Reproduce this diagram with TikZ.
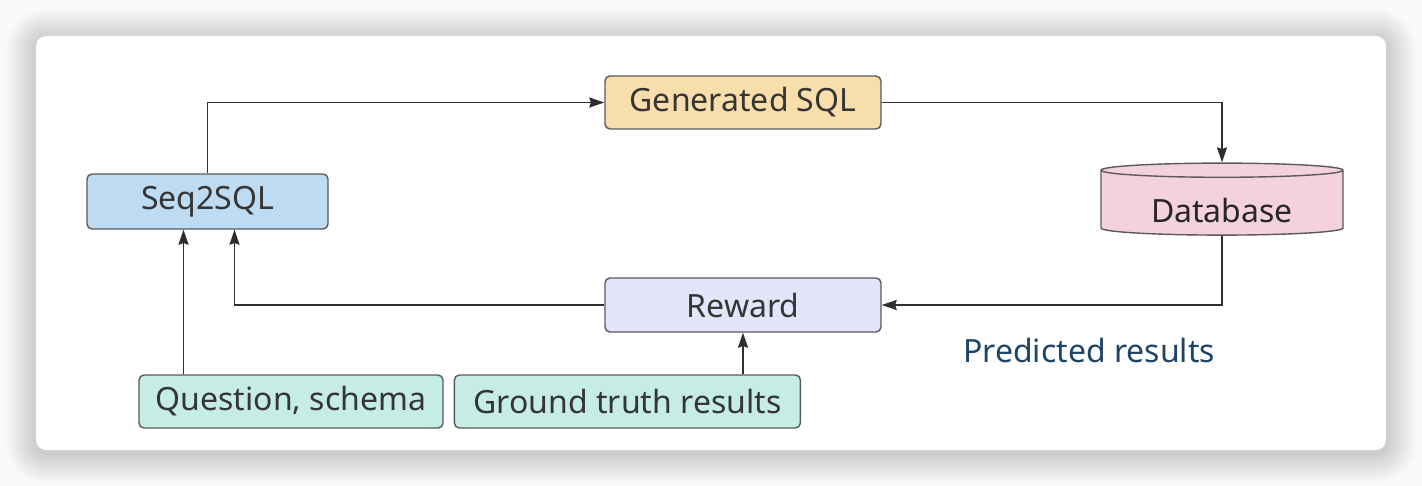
\documentclass[tikz,border=0pt]{standalone}
\usepackage{fontspec}
\setmainfont{Noto Sans}
\usetikzlibrary{arrows.meta, positioning, shapes.geometric}
\definecolor{colgen}{HTML}{F7DEAB}
\definecolor{colseq}{HTML}{BDDBF2}
\definecolor{coldb}{HTML}{F4D2DC}
\definecolor{colrew}{HTML}{E3E5FA}
\definecolor{colent}{HTML}{C6ECE6}
\definecolor{colpred}{HTML}{1E4466}
\definecolor{borde}{HTML}{5A5A5A}
\definecolor{texto}{HTML}{353535}
\definecolor{linea}{HTML}{2E2E2E}
\tikzset{
	x=0.5pt, y=-0.5pt, % Un pixel de la imagen, y hacia abajo
	>={Stealth[length=7.5pt,width=5pt,inset=0.8pt]}, % Puntas de flecha
	caja/.style={draw=borde, line width=0.7pt, rounded corners=2.5pt, text=texto,
		font=\fontsize{16}{19}\selectfont, inner sep=0pt}, % Propiedades de las cajas
	flecha/.style={->, draw=linea, line width=0.8pt} % Conectores
}

\begin{document}
\begin{tikzpicture}
	\useasboundingbox (0,0) rectangle (1422,486);
	\fill[black!2] (0,0) rectangle (1422,486);
	\foreach \i in {1,...,15}
		\fill[black, opacity=0.013, rounded corners={(10+2*\i)*0.5pt}]
			(36-2*\i,39-2*\i) rectangle (1386+2*\i,453+2*\i);
	\fill[white, rounded corners=5pt] (36,36) rectangle (1386,450);
	\node[caja, fill=colgen, minimum width=138pt, minimum height=26.5pt] (gen) at (743,102.5) {Generated SQL};
	\node[caja, fill=colseq, minimum width=120.5pt, minimum height=27.5pt] (seq) at (207.5,201.5) {Seq2SQL};
	\node[draw=borde, line width=0.7pt, fill=coldb, text=black!85, font=\fontsize{16}{19}\selectfont,
		cylinder, shape border rotate=90, aspect=0.1, minimum width=121pt, minimum height=36pt,
		inner sep=0pt, text height=19pt, text depth=0pt] (db) at (1222,203) {Database};
	\node[caja, fill=colrew, minimum width=138pt, minimum height=27pt] (rew) at (743,305) {Reward};
	\node[caja, fill=colent, minimum width=152pt, minimum height=26.5pt] (preg) at (291,401.5) {Question, schema};
	\node[caja, fill=colent, minimum width=173pt, minimum height=26.5pt, right=5pt of preg] (gt) {Ground truth results};
	\node[text=colpred, font=\fontsize{16}{19}\selectfont] (pred) at (1089,350) {Predicted results};
	\draw[flecha] (seq.north) |- (gen.west);
	\draw[flecha] (gen.east) -| (db.north);
	\draw[flecha] (db.south) |- (rew.east);
	\draw[flecha] (rew.west) -| ([xshift=13.5pt]seq.south);
	\draw[flecha] ([xshift=-12pt]seq.south |- preg.north) -- ([xshift=-12pt]seq.south);
	\draw[flecha] (rew.south |- gt.north) -- (rew.south);
\end{tikzpicture}
\end{document}
